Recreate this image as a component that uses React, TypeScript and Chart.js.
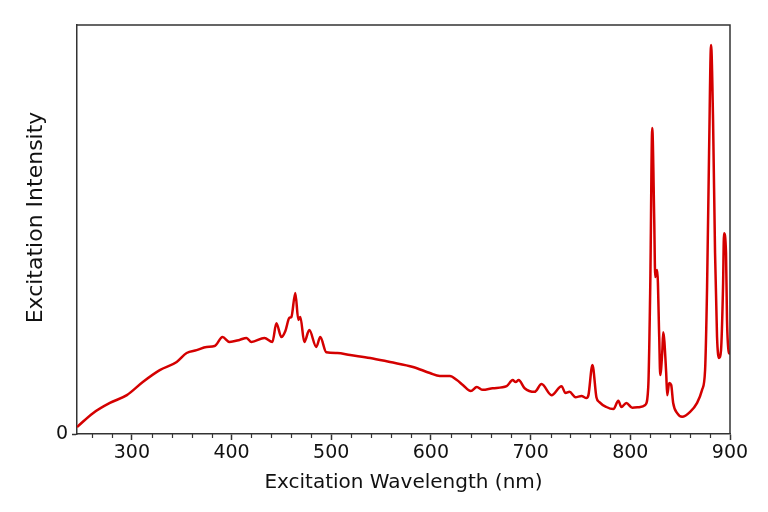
import { useEffect, useRef } from "react";
import { Chart, registerables } from "chart.js";

Chart.register(...registerables);

const wavelengths = [
  245, 261, 278, 295, 311, 328, 345, 355, 365, 375, 383, 391, 398, 408, 415, 420,
  433, 441, 445, 450, 454, 458, 460, 464, 467, 469, 473, 478, 485, 489, 495, 506,
  519, 539, 559, 582, 599, 609, 619, 626, 632, 640, 646, 652, 662, 676, 682, 685,
  688, 694, 704, 711, 721, 731, 735, 739, 745, 751, 756, 758, 762, 766, 769, 776,
  783, 788, 791, 796, 802, 810, 815, 818, 820, 822, 824, 825, 827, 829, 830, 832,
  833, 836, 837, 839, 841, 843, 847, 852, 860, 867, 872, 875, 877, 879, 881, 883,
  885, 887, 889, 891, 893, 894, 896, 897, 899, 900,
];

const intensities = [
  1.7, 5.1, 7.6, 9.5, 12.7, 15.6, 17.6, 19.8, 20.5, 21.3, 21.5, 23.7, 22.5, 23.0, 23.5, 22.5,
  23.5, 22.5, 27.1, 23.7, 25.2, 28.4, 28.6, 34.5, 27.9, 28.6, 22.5, 25.4, 21.3, 23.7, 20.0, 19.8,
  19.3, 18.6, 17.6, 16.4, 14.9, 14.2, 14.2, 13.2, 12.0, 10.5, 11.5, 10.8, 11.2, 11.7, 13.2, 12.7,
  13.2, 11.2, 10.3, 12.2, 9.5, 11.7, 10.0, 10.3, 9.0, 9.3, 8.8, 9.5, 16.9, 9.0, 7.8, 6.6,
  6.1, 8.1, 6.6, 7.6, 6.4, 6.6, 7.1, 11.5, 35.9, 74.8, 52.3, 38.4, 40.1, 23.7, 14.4, 19.8,
  24.9, 14.9, 9.5, 12.5, 12.0, 7.6, 5.1, 4.2, 5.4, 7.6, 10.8, 15.6, 35.9, 68.7, 95.1, 76.8,
  44.3, 23.7, 18.6, 20.5, 35.9, 49.1, 44.3, 27.9, 19.8, 19.6,
];

const xTickValues = [300, 400, 500, 600, 700, 800, 900];
const xMinorTickValues = [
  260, 280, 320, 340, 360, 380, 420, 440, 460, 480, 520, 540, 560, 580,
  620, 640, 660, 680, 720, 740, 760, 780, 820, 840, 860, 880,
];
const yTickValues = [0];

const xTitle = "Excitation Wavelength (nm)";
const yTitle = "Excitation Intensity";

const FONT = "'DejaVu Sans', 'Noto Sans', sans-serif";
const AXIS_COLOR = "#333333";
const TEXT_COLOR = "#111111";

const framePlugin = {
  id: "frameAndMinorTicks",
  afterDraw(chart: any) {
    const { ctx, chartArea } = chart;
    const { left, right, top, bottom } = chartArea;
    const x = chart.scales.x;
    ctx.save();
    ctx.strokeStyle = AXIS_COLOR;
    ctx.lineWidth = 1.5;
    ctx.beginPath();
    ctx.moveTo(left, top);
    ctx.lineTo(right, top);
    ctx.lineTo(right, bottom);
    ctx.stroke();
    ctx.lineWidth = 1.2;
    ctx.beginPath();
    for (const v of xMinorTickValues) {
      const px = Math.round(x.getPixelForValue(v)) + 0.5;
      ctx.moveTo(px, bottom);
      ctx.lineTo(px, bottom + 4);
    }
    ctx.stroke();
    // y axis title (slightly above the plot centre, as in the reference)
    ctx.translate(36, (top + bottom) / 2 - 12);
    ctx.rotate(-Math.PI / 2);
    ctx.fillStyle = TEXT_COLOR;
    ctx.font = `22px ${FONT}`;
    ctx.textAlign = "center";
    ctx.textBaseline = "middle";
    ctx.fillText(yTitle, 0, 0);
    ctx.restore();
  },
};

export default function App() {
  const canvasRef = useRef<HTMLCanvasElement | null>(null);

  useEffect(() => {
    document.body.style.margin = "0";
    const canvas = canvasRef.current;
    if (!canvas) return;
    const chart = new Chart(canvas, {
      type: "line",
      data: {
        datasets: [
          {
            data: wavelengths.map((w, i) => ({ x: w, y: intensities[i] })),
            borderColor: "#d40000",
            borderWidth: 2.5,
            pointRadius: 0,
            fill: false,
            cubicInterpolationMode: "monotone",
          },
        ],
      },
      options: {
        responsive: false,
        animation: false,
        layout: { padding: { top: 25, right: 38, left: 0, bottom: 0 } },
        plugins: {
          legend: { display: false },
          tooltip: { enabled: false },
        },
        scales: {
          x: {
            type: "linear",
            min: 245,
            max: 900,
            afterBuildTicks: (s: any) => {
              s.ticks = xTickValues.map((v) => ({ value: v }));
            },
            afterFit: (s: any) => {
              s.height = 78;
            },
            ticks: {
              font: { family: FONT, size: 19 },
              color: TEXT_COLOR,
              padding: 2,
              maxRotation: 0,
              autoSkip: false,
            },
            grid: {
              drawOnChartArea: false,
              drawTicks: true,
              tickLength: 6,
              tickColor: AXIS_COLOR,
              tickWidth: 1.5,
            },
            border: { display: true, color: AXIS_COLOR, width: 1.5 },
            title: {
              display: true,
              text: xTitle,
              color: TEXT_COLOR,
              font: { family: FONT, size: 20 },
              padding: { top: 0, bottom: 17 },
            },
          },
          y: {
            type: "linear",
            min: 0,
            max: 100,
            afterBuildTicks: (s: any) => {
              s.ticks = yTickValues.map((v) => ({ value: v }));
            },
            afterFit: (s: any) => {
              s.width = 77;
            },
            ticks: {
              font: { family: FONT, size: 19 },
              color: TEXT_COLOR,
              padding: 4,
            },
            grid: {
              drawOnChartArea: false,
              drawTicks: true,
              tickLength: 5,
              tickColor: AXIS_COLOR,
              tickWidth: 1.5,
            },
            border: { display: true, color: AXIS_COLOR, width: 1.5 },
            title: { display: false },
          },
        },
      },
      plugins: [framePlugin],
    } as any);
    return () => chart.destroy();
  }, []);

  return (
    <div style={{ position: "absolute", left: 0, top: 0, width: 768, height: 512, background: "#ffffff" }}>
      <canvas ref={canvasRef} width={768} height={512} />
    </div>
  );
}
